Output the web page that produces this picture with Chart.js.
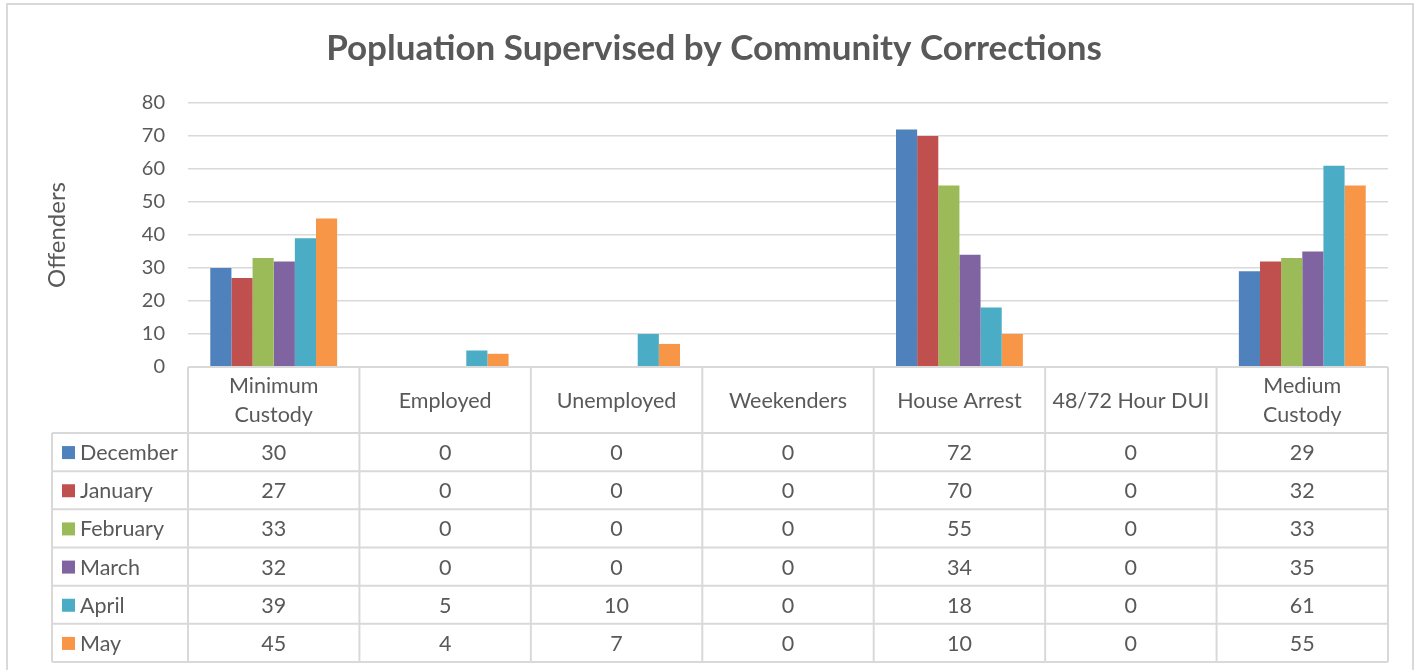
<!DOCTYPE html>
<html>
<head>
<meta charset="utf-8">
<script src="https://cdn.jsdelivr.net/npm/chart.js@4.4.1/dist/chart.umd.min.js"></script>
<style>
  html, body { margin: 0; padding: 0; background: #ffffff; }
  #wrap { width: 1419px; height: 670px; position: relative; }
</style>
</head>
<body>
<div id="wrap"><canvas id="c" width="1419" height="670"></canvas></div>
<script>
// ---- data ----
const categories = ['Minimum Custody', 'Employed', 'Unemployed', 'Weekenders', 'House Arrest', '48/72 Hour DUI', 'Medium Custody'];
const categoryLines = [['Minimum', 'Custody'], ['Employed'], ['Unemployed'], ['Weekenders'], ['House Arrest'], ['48/72 Hour DUI'], ['Medium', 'Custody']];
const months = ['December', 'January', 'February', 'March', 'April', 'May'];
const december = [30, 0, 0, 0, 72, 0, 29];
const january  = [27, 0, 0, 0, 70, 0, 32];
const february = [33, 0, 0, 0, 55, 0, 33];
const march    = [32, 0, 0, 0, 34, 0, 35];
const april    = [39, 5, 10, 0, 18, 0, 61];
const may      = [45, 4, 7, 0, 10, 0, 55];
const yTicks = [0, 10, 20, 30, 40, 50, 60, 70, 80];
const titleText = 'Popluation Supervised by Community Corrections';
const yTitle = 'Offenders';

const seriesValues = [december, january, february, march, april, may];
const colors = ['#4F81BD', '#C0504D', '#9BBB59', '#8064A2', '#4BACC6', '#F79646'];
const FONT = 'Lato, "Open Sans", sans-serif';
const TEXT = '#595959';
const LINE = '#d9d9d9';

const tablePlugin = {
  id: 'dataTable',
  beforeDraw(chart) {
    const ctx = chart.ctx;
    ctx.save();
    ctx.fillStyle = '#ffffff';
    ctx.fillRect(0, 0, chart.width, chart.height);
    ctx.strokeStyle = LINE;
    ctx.lineWidth = 2;
    ctx.strokeRect(7, 4, 1406, 700);
    ctx.restore();
  },
  afterDraw(chart) {
    const ctx = chart.ctx;
    const area = chart.chartArea;
    const xs = chart.scales.x;
    const n = categories.length;
    const colW = (area.right - area.left) / n;
    const top = area.bottom;
    const headH = 66;
    const bottom = 662;
    const rowH = (bottom - top - headH) / months.length;
    const legendLeft = 52;
    ctx.save();
    ctx.strokeStyle = LINE;
    ctx.lineWidth = 2;
    ctx.beginPath();
    ctx.moveTo(area.left, top); ctx.lineTo(area.right, top);
    for (let k = 0; k <= months.length; k++) {
      const y = top + headH + k * rowH;
      ctx.moveTo(legendLeft, y); ctx.lineTo(area.right, y);
    }
    for (let j = 0; j <= n; j++) {
      const x = area.left + j * colW;
      ctx.moveTo(x, top); ctx.lineTo(x, bottom);
    }
    ctx.moveTo(legendLeft, top + headH); ctx.lineTo(legendLeft, bottom);
    ctx.stroke();

    ctx.fillStyle = TEXT;
    ctx.font = '21.5px ' + FONT;
    ctx.textAlign = 'center';
    ctx.textBaseline = 'middle';
    categoryLines.forEach((lines, i) => {
      const cx = xs.getPixelForValue(i);
      const lh = 29;
      const cy = top + headH / 2 + 1;
      lines.forEach((ln, li) => {
        ctx.fillText(ln, cx, cy + (li - (lines.length - 1) / 2) * lh);
      });
    });
    months.forEach((m, r) => {
      const cy = top + headH + r * rowH + rowH / 2 + 1;
      ctx.fillStyle = colors[r];
      ctx.fillRect(62, cy - 7, 13, 13);
      ctx.fillStyle = TEXT;
      ctx.textAlign = 'left';
      ctx.fillText(m, 80, cy);
      ctx.textAlign = 'center';
      seriesValues[r].forEach((v, i) => {
        ctx.fillText(String(v), xs.getPixelForValue(i), cy);
      });
    });
    ctx.restore();
  }
};

new Chart(document.getElementById('c'), {
  type: 'bar',
  data: {
    labels: categories,
    datasets: months.map((m, i) => ({
      label: m,
      data: seriesValues[i],
      backgroundColor: colors[i],
      borderWidth: 0,
      categoryPercentage: 0.74,
      barPercentage: 1.0
    }))
  },
  options: {
    responsive: false,
    devicePixelRatio: 1,
    animation: false,
    layout: { padding: { left: 40, right: 31, top: 0, bottom: 0 } },
    plugins: {
      legend: { display: false },
      tooltip: { enabled: false },
      title: {
        display: true,
        text: titleText,
        color: TEXT,
        font: { family: FONT, size: 35, weight: 'bold', lineHeight: 1.2 },
        padding: { top: 28, bottom: 33 }
      }
    },
    scales: {
      x: {
        grid: { display: false },
        border: { display: false },
        ticks: { display: false },
        afterFit(scale) { scale.height = 303; }
      },
      y: {
        min: 0,
        max: 80,
        afterBuildTicks(scale) { scale.ticks = yTicks.map(v => ({ value: v })); },
        ticks: { color: TEXT, font: { family: FONT, size: 20 }, padding: 23 },
        grid: { color: LINE, lineWidth: 1.5, drawTicks: false },
        border: { display: false },
        title: {
          display: true,
          text: yTitle,
          color: TEXT,
          font: { family: FONT, size: 24 },
          padding: { top: 3, bottom: 0 }
        },
        afterFit(scale) { scale.width = 148; }
      }
    }
  },
  plugins: [tablePlugin]
});
</script>
</body>
</html>
